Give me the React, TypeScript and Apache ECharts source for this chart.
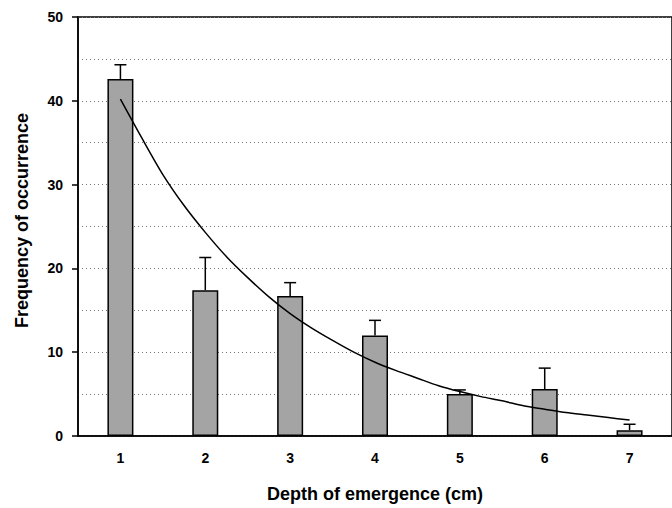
import React, { useEffect, useRef } from "react";
import * as echarts from "echarts";

const categories = ["1", "2", "3", "4", "5", "6", "7"];
const meanValues = [42.6, 17.4, 16.7, 12.0, 5.0, 5.6, 0.7];
const errorTops = [44.3, 21.3, 18.3, 13.8, 5.5, 8.1, 1.4];
const curveX = [1, 1.25, 1.5, 1.75, 2, 2.25, 2.5, 2.75, 3, 3.25, 3.5, 3.75, 4, 4.25, 4.5, 4.75, 5, 5.25, 5.5, 5.75, 6, 6.25, 6.5, 6.75, 7];
const curveY = [40.2, 35.6, 31.2, 27.5, 24.3, 21.4, 18.9, 16.6, 14.6, 12.9, 11.4, 10.0, 8.8, 7.8, 6.9, 6.0, 5.3, 4.7, 4.2, 3.6, 3.2, 2.8, 2.5, 2.2, 1.9];
const yTicks = [0, 10, 20, 30, 40, 50];

export default function App() {
  const ref = useRef<HTMLDivElement>(null);
  useEffect(() => {
    document.body.style.margin = "0";
    const chart = echarts.init(ref.current!, null, { renderer: "svg" });
    const font = "'Liberation Sans', Arial, sans-serif";
    chart.setOption({
      animation: false,
      backgroundColor: "#ffffff",
      grid: {
        left: 78,
        right: -3.4,
        top: 17,
        bottom: 71,
        show: true,
        borderColor: "#000",
        borderWidth: 1.5,
        backgroundColor: "transparent",
      },
      xAxis: [
        {
          type: "category",
          data: categories,
          boundaryGap: true,
          axisLine: { lineStyle: { color: "#000", width: 1.5 } },
          axisTick: { alignWithLabel: true, length: 6, lineStyle: { color: "#000", width: 1.5 } },
          axisLabel: { color: "#000", fontSize: 14, fontWeight: "bold", fontFamily: font, margin: 15 },
          splitLine: { show: false },
          name: "Depth of emergence (cm)",
          nameLocation: "middle",
          nameGap: 49,
          nameTextStyle: { color: "#000", fontSize: 18, fontWeight: "bold", fontFamily: font },
        },
        {
          type: "value",
          min: 0.5,
          max: 7.5,
          show: false,
          position: "bottom",
        },
      ],
      yAxis: {
        type: "value",
        min: 0,
        max: 50,
        interval: 10,
        axisLine: { show: true, lineStyle: { color: "#000", width: 1.5 } },
        axisTick: { show: true, length: 6, lineStyle: { color: "#000", width: 1.5 } },
        axisLabel: {
          color: "#000",
          fontSize: 14,
          fontWeight: "bold",
          fontFamily: font,
          margin: 15,
          formatter: (v: number) => (yTicks.includes(v) ? String(v) : ""),
        },
        splitLine: { show: true, lineStyle: { color: "#777", type: [1, 3], width: 1 } },
        minorSplitLine: { show: true, lineStyle: { color: "#777", type: [1, 3], width: 1 } },
        minorTick: { show: false, splitNumber: 2 },
        name: "Frequency of occurrence",
        nameLocation: "middle",
        nameGap: 47,
        nameTextStyle: { color: "#000", fontSize: 18, fontWeight: "bold", fontFamily: font, padding: [0, 0, 0, 12] },
      },
      series: [
        {
          type: "bar",
          xAxisIndex: 0,
          data: meanValues,
          barWidth: 26,
          itemStyle: { color: "#a4a4a4", borderColor: "#000", borderWidth: 1.5 },
          z: 2,
        },
        {
          type: "custom",
          xAxisIndex: 0,
          data: meanValues.map((v, i) => [i, v, errorTops[i]]),
          encode: { x: 0, y: [1, 2] },
          renderItem: (params: any, api: any) => {
            const idx = api.value(0);
            const base = api.coord([idx, api.value(1)]);
            const top = api.coord([idx, api.value(2)]);
            const half = 6;
            return {
              type: "group",
              children: [
                {
                  type: "line",
                  shape: { x1: base[0], y1: base[1], x2: top[0], y2: top[1] },
                  style: { stroke: "#000", lineWidth: 1.5 },
                },
                {
                  type: "line",
                  shape: { x1: top[0] - half, y1: top[1], x2: top[0] + half, y2: top[1] },
                  style: { stroke: "#000", lineWidth: 1.5 },
                },
              ],
            };
          },
          z: 3,
        },
        {
          type: "line",
          xAxisIndex: 1,
          data: curveX.map((x, i) => [x, curveY[i]]),
          smooth: 0.3,
          symbol: "none",
          lineStyle: { color: "#000", width: 1.5 },
          z: 4,
        },
      ],
    });
    return () => chart.dispose();
  }, []);
  return <div ref={ref} style={{ width: 672, height: 508 }} />;
}
